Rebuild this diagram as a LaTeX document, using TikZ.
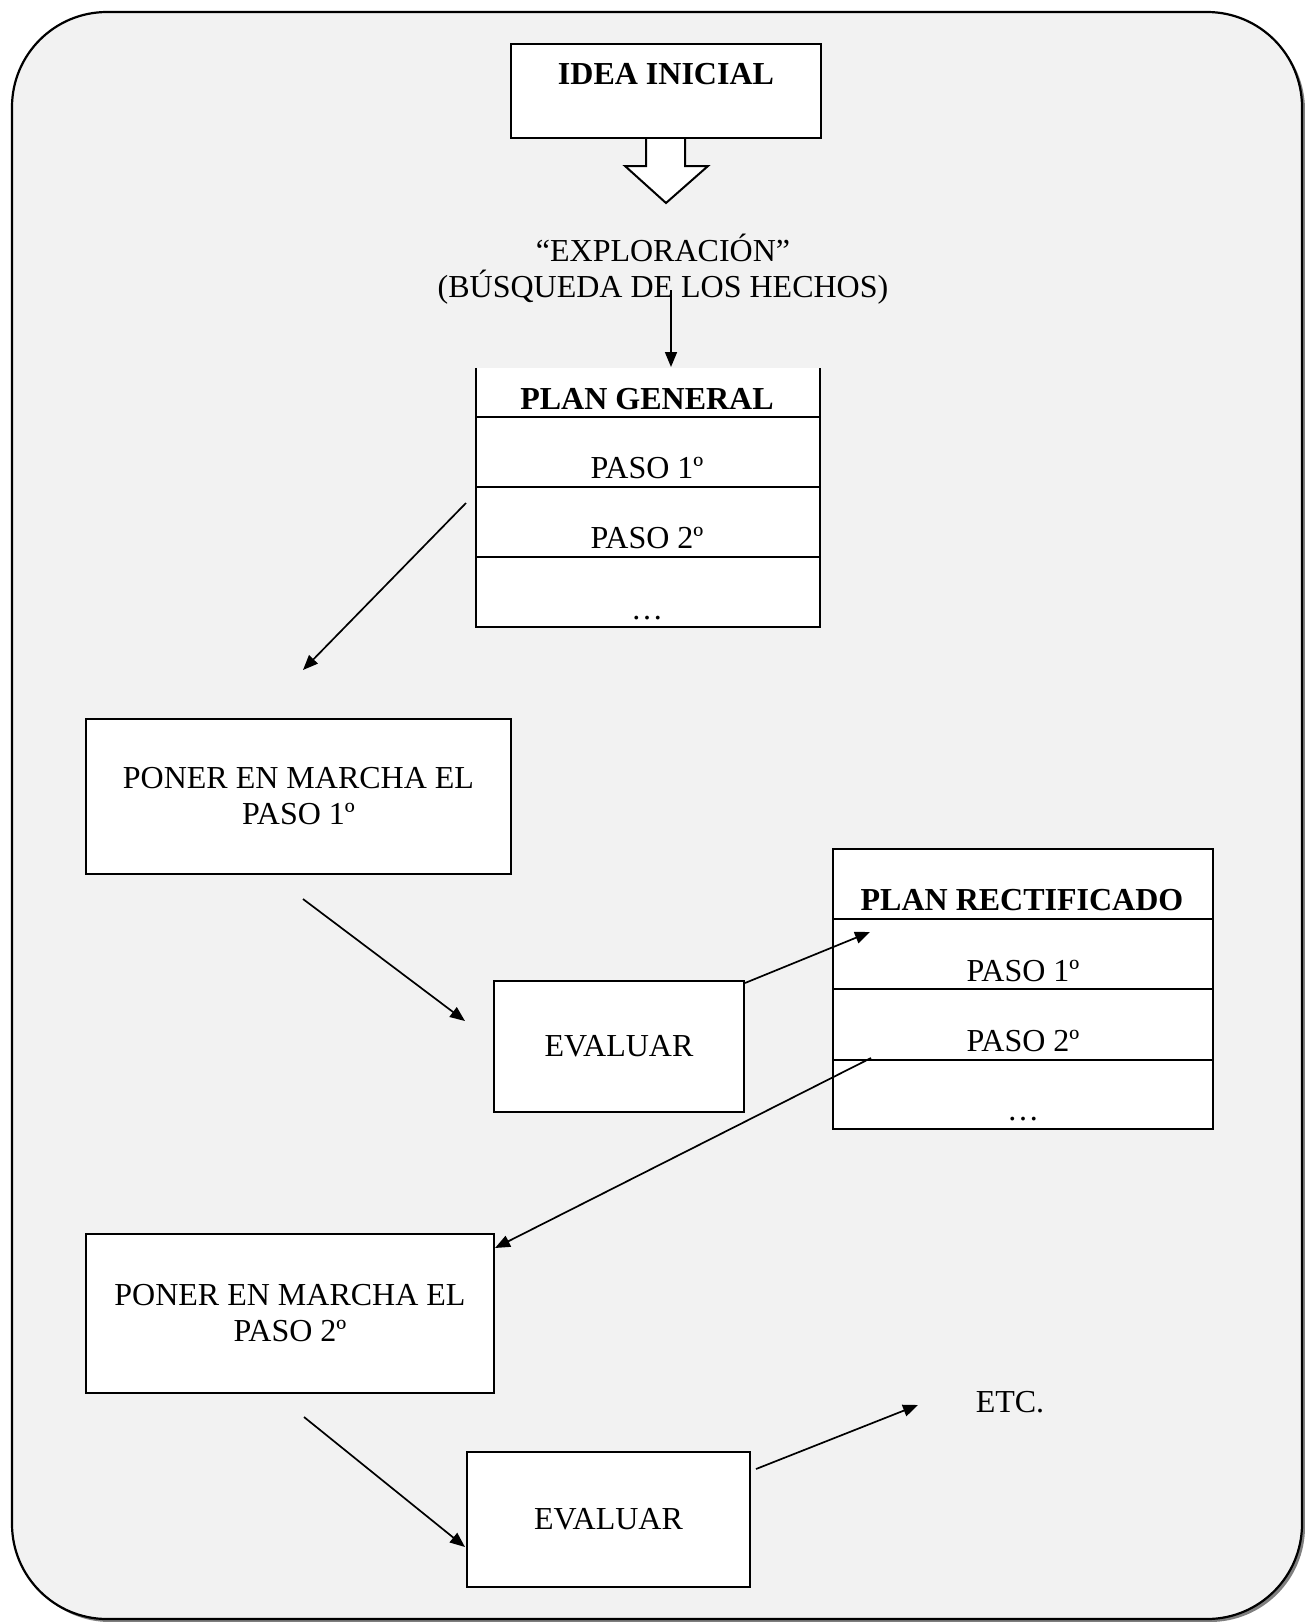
\documentclass[tikz,border=0pt]{standalone}
\usepackage{fontspec}
\setmainfont{Liberation Serif}
\usetikzlibrary{arrows.meta}
\definecolor{panelbg}{HTML}{F2F2F2}
\definecolor{shadowgray}{HTML}{7F7F7F}
\tikzset{
  box/.style={draw=black, line width=2pt, fill=white, inner sep=0pt, align=center},
  txt/.style={inner sep=0pt, align=center},
  conn/.style={line width=1.7pt, -{Triangle[length=15pt,width=12pt]}},
  rule/.style={line width=2pt},
}
\begin{document}
\begin{tikzpicture}[x=1pt,y=-1pt,font=\fontsize{32}{36}\selectfont]
\useasboundingbox (0,0) rectangle (1304,1622);
% outer panel with shadow
\fill[shadowgray, rounded corners=95pt] (15,15) rectangle (1305,1622);
\draw[fill=panelbg, line width=2.2pt, rounded corners=95pt] (12,12) rectangle (1302,1619);

% IDEA INICIAL
\node[box, minimum width=310pt, minimum height=94pt] (idea) at (666,91) {};
\node[txt, font=\fontsize{32}{36}\selectfont\bfseries] (ideatxt) at (666,74) {IDEA INICIAL};
% block arrow
\draw[line width=2pt, fill=white] (idea.south -| 646,0) -- (646,166) -- (625,166) -- (666,203) -- (708,166) -- (685,166) -- (idea.south -| 685,0);

% exploracion
\node[txt] (expl) at (663,269) {“EXPLORACIÓN”\\(BÚSQUEDA DE LOS HECHOS)};

% PLAN GENERAL table
\node[fill=white, inner sep=0pt, minimum width=344pt, minimum height=259pt] (pg) at (648,497.5) {};
\draw[rule] (pg.north west) -- (pg.south west) -- (pg.south east) -- (pg.north east);
\draw[rule] (476,417) -- (820,417);
\draw[rule] (476,487) -- (820,487);
\draw[rule] (476,557) -- (820,557);
\node[txt, font=\fontsize{32}{36}\selectfont\bfseries] (pgh) at (647,399) {PLAN GENERAL};
\node[txt] (pg1) at (647,468) {PASO 1º};
\node[txt] (pg2) at (647,538) {PASO 2º};
\node[txt, anchor=base] (pg3) at (647,619) {…};

% PONER 1
\node[box, minimum width=425pt, minimum height=155pt] (poner1) at (298.5,796.5) {PONER EN MARCHA EL\\PASO 1º};
% EVALUAR 1
\node[box, minimum width=250pt, minimum height=131pt] (eval1) at (619,1046.5) {EVALUAR};

% PLAN RECTIFICADO table
\node[box, minimum width=380pt, minimum height=280pt] (pr) at (1023,989) {};
\draw[rule] (833,919) -- (1213,919);
\draw[rule] (833,989) -- (1213,989);
\draw[rule] (833,1060) -- (1213,1060);
\node[txt, font=\fontsize{32}{36}\selectfont\bfseries] (prh) at (1022,900) {PLAN RECTIFICADO};
\node[txt] (pr1) at (1023,971) {PASO 1º};
\node[txt] (pr2) at (1023,1041) {PASO 2º};
\node[txt, anchor=base] (pr3) at (1023,1120) {…};

% PONER 2
\node[box, minimum width=408pt, minimum height=159pt] (poner2) at (290,1313.5) {PONER EN MARCHA EL\\PASO 2º};
% EVALUAR 2
\node[box, minimum width=283pt, minimum height=135pt] (eval2) at (608.5,1519.5) {EVALUAR};
% ETC
\node[txt] (etc) at (1010,1402) {ETC.};

% connector endpoints
\coordinate (a1s) at (671,290);  \coordinate (a1e) at (671,367);
\coordinate (a2s) at (466,503);  \coordinate (a2e) at (303,670);
\coordinate (a3s) at (303,899);  \coordinate (a3e) at (465,1021);
\coordinate (a4s) at (745,983);  \coordinate (a4e) at (870,932);
\coordinate (a5s) at (871,1058); \coordinate (a5e) at (495,1248);
\coordinate (a6s) at (304,1417); \coordinate (a6e) at (465,1547);
\coordinate (a7s) at (756,1469); \coordinate (a7e) at (918,1405);

\draw[conn] (a1s) -- (a1e);
\draw[conn] (a2s) -- (a2e);
\draw[conn] (a3s) -- (a3e);
\draw[conn] (a4s) -- (a4e);
\draw[conn] (a5s) -- (a5e);
\draw[conn] (a6s) -- (a6e);
\draw[conn] (a7s) -- (a7e);
\end{tikzpicture}
\end{document}
